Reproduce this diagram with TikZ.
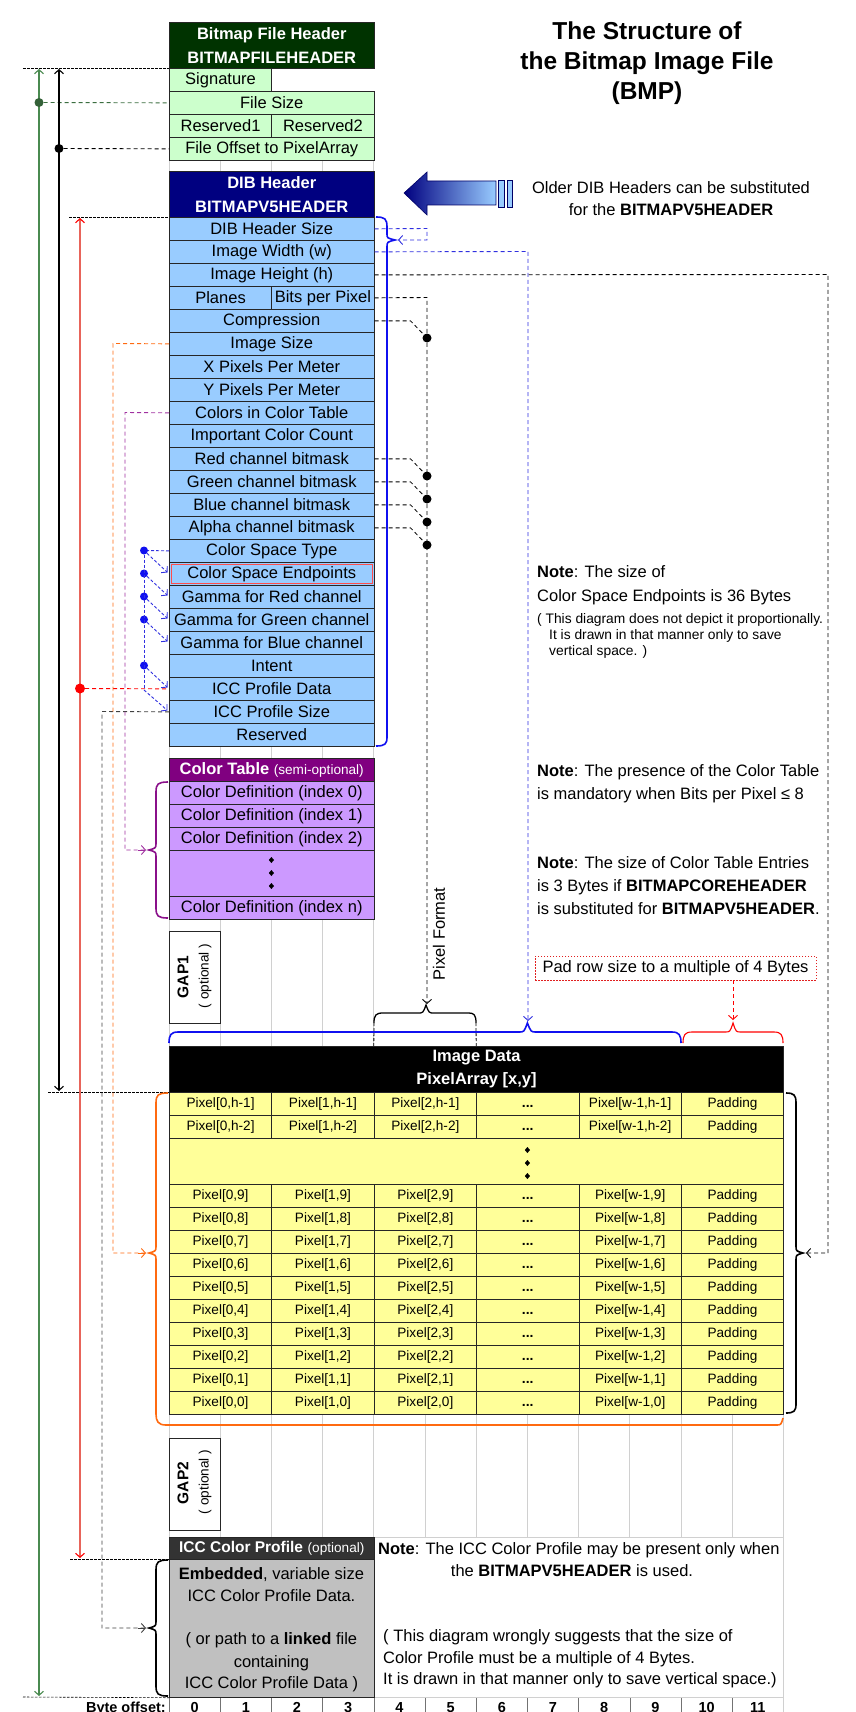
\documentclass[tikz,border=0pt]{standalone}
\usepackage{fontspec}
\setmainfont{Liberation Sans}
\usetikzlibrary{arrows.meta}
\definecolor{bfhdark}{HTML}{003300}
\definecolor{bfhrow}{HTML}{CCFFCC}
\definecolor{dibdark}{HTML}{000080}
\definecolor{dibrow}{HTML}{99CCFF}
\definecolor{ctdark}{HTML}{800080}
\definecolor{ctrow}{HTML}{CC99FF}
\definecolor{pixrow}{HTML}{FFFF99}
\definecolor{iccdark}{HTML}{333333}
\definecolor{iccrow}{HTML}{C0C0C0}
\definecolor{gridc}{HTML}{D0D0D0}
\definecolor{gline}{HTML}{4A8A50}
\definecolor{rline}{HTML}{E8645A}
\definecolor{oline}{HTML}{FF6A10}
\definecolor{pline}{HTML}{8A108A}
\definecolor{pdash}{HTML}{A030A0}
\definecolor{bline}{HTML}{1010F0}
\definecolor{bdash}{HTML}{3030E0}
\definecolor{greyd}{HTML}{404040}
\definecolor{padred}{HTML}{E02020}
\newcommand\fz[1]{\fontsize{#1}{#1}\selectfont}
\tikzset{
  cellst/.style={draw=black!85, line width=0.7pt, inner sep=0pt, anchor=north west, minimum height=23pt, text=black, font=\fz{16.5}},
  full/.style={minimum width=204.8pt},
  half/.style={minimum width=102.4pt},
  bfhc/.style={cellst, fill=bfhrow},
  dibc/.style={cellst, fill=dibrow},
  ctc/.style={cellst, fill=ctrow},
  pixc/.style={cellst, fill=pixrow, font=\fz{13.6}, minimum width=102.4pt, text height=10pt, text depth=3pt},
  hdrc/.style={cellst, text=white, font=\bfseries\fontsize{16.5}{24}\selectfont, align=center, minimum height=46pt},
  gapc/.style={cellst, fill=white, minimum width=51.2pt, minimum height=92pt},
  conn/.style={line width=0.9pt, dash pattern=on 4pt off 3pt},
  fine/.style={line width=0.6pt, dash pattern=on 2.5pt off 1.5pt, black},
  tipe/.style={-{Straight Barb[length=4pt,width=9pt]}},
  tipboth/.style={{Straight Barb[length=4pt,width=9pt]}-{Straight Barb[length=4pt,width=9pt]}},
  dotc/.style={circle, inner sep=0pt, minimum size=9pt},
  bracew/.style={line width=1.6pt},
  notet/.style={anchor=base west, inner sep=0pt, font=\fz{16.5}},
  smallt/.style={anchor=base west, inner sep=0pt, font=\fz{13.8}},
  ctrt/.style={anchor=base, inner sep=0pt, font=\fz{16.5}},
}
\begin{document}
\begin{tikzpicture}[x=1pt, y=-1pt]
\useasboundingbox (0,0) rectangle (855,1712);
\fill[white] (0,0) rectangle (855,1712);

% background grid
\foreach \x in {169,220.2,271.4,322.6,373.8} {
  \draw[gridc, line width=0.8pt] (\x,160) -- (\x,171);
  \draw[gridc, line width=0.8pt] (\x,746) -- (\x,758);
  \draw[gridc, line width=0.8pt] (\x,919) -- (\x,1046);
}
\foreach \i in {0,...,12} {
  \draw[gridc, line width=0.8pt] (169+51.2*\i,1414) -- (169+51.2*\i,1537);
  \draw[black!55, line width=0.6pt] (169+51.2*\i,1697) -- (169+51.2*\i,1712);
}
\draw[gridc, line width=0.8pt] (373.8,1537) -- (783.4,1537) -- (783.4,1712);
\draw[gridc, line width=0.8pt] (373.8,1697) -- (783.4,1697);

% title
\node[font=\bfseries\fontsize{24.5}{30}\selectfont, align=center] (title) at (647,63) {The Structure of\\the Bitmap Image File\\(BMP)};

% Bitmap file header
\node[hdrc, fill=bfhdark, full] (bfht) at (169,22) {Bitmap File Header\\BITMAPFILEHEADER};
\node[bfhc, half] (sig) at (169,68) {Signature};
\node[bfhc, full] (fsize) at (169,91) {File Size};
\node[bfhc, half] (res1) at (169,114) {Reserved1};
\node[bfhc, half] (res2) at (271.4,114) {Reserved2};
\node[bfhc, full] (foff) at (169,137) {File Offset to PixelArray};

% DIB header
\node[hdrc, fill=dibdark, full] (dibt) at (169,171) {DIB Header\\BITMAPV5HEADER};
\foreach \nm/\tx/\i in {dibsize/DIB Header Size/0, imgw/Image Width (w)/1, imgh/Image Height (h)/2, compr/Compression/4, imgsize/Image Size/5, xppm/X Pixels Per Meter/6, yppm/Y Pixels Per Meter/7, colors/Colors in Color Table/8, impcol/Important Color Count/9, redm/Red channel bitmask/10, greenm/Green channel bitmask/11, bluem/Blue channel bitmask/12, alpham/Alpha channel bitmask/13, cstype/Color Space Type/14, csend/Color Space Endpoints/15, gammar/Gamma for Red channel/16, gammag/Gamma for Green channel/17, gammab/Gamma for Blue channel/18, intent/Intent/19, iccdata/ICC Profile Data/20, iccsize/ICC Profile Size/21, reserved/Reserved/22}
  \node[dibc, full] (\nm) at (169,217+23*\i) {\tx};
\node[dibc, half] (planes) at (169,286) {Planes};
\node[dibc, half] (bpp) at (271.4,286) {Bits per Pixel};
\draw[color=red!70!white, line width=0.8pt] ([shift={(2.5,2.5)}]csend.north west) rectangle ([shift={(-2.5,-2.5)}]csend.south east);

% substitution arrow
\shadedraw[left color=dibdark, right color=dibrow, draw=dibdark!80!black, line width=0.6pt] (404,193) -- (427,172) -- (427,181) -- (496,181) -- (496,205) -- (427,205) -- (427,215) -- cycle;
\draw[fill=dibrow, draw=dibdark!80!black, line width=0.6pt] (498.5,180) rectangle (504,207);
\draw[fill=dibrow, draw=dibdark!80!black, line width=0.6pt] (507,180) rectangle (512.5,207);
\node[font=\fontsize{16.5}{22}\selectfont, align=center] (older) at (671,199) {Older DIB Headers can be substituted\\for the \textbf{BITMAPV5HEADER}};

% Color table
\node[cellst, fill=ctdark, full, text=white] (ctt) at (169,758) {\textbf{\fz{16.5}Color Table} {\fz{13.6}(semi-optional)}};
\node[ctc, full] (ct0) at (169,781) {Color Definition (index 0)};
\node[ctc, full] (ct1) at (169,804) {Color Definition (index 1)};
\node[ctc, full] (ct2) at (169,827) {Color Definition (index 2)};
\node[ctc, full, minimum height=46pt] (ctdots) at (169,850) {};
\node[ctc, full] (ctn) at (169,896) {Color Definition (index n)};
\foreach \yy in {860,873,886}
  \fill (271.4,\yy-3) -- (274,\yy) -- (271.4,\yy+3) -- (268.8,\yy) -- cycle;

% GAP1
\node[gapc] (gap1) at (169,931) {};
\node[rotate=90, font=\bfseries\fz{15.5}] (gap1a) at (183,977) {GAP1};
\node[rotate=90, font=\fz{13.6}] (gap1b) at (205,976) {( optional )};

% Image data
\node[cellst, fill=black, text=white, minimum width=614.4pt, minimum height=46pt, align=center, font=\bfseries\fontsize{16.5}{23}\selectfont] (imgt) at (169,1046) {Image Data\\PixelArray [x,y]};
\foreach \r/\yy [count=\k] in {h-1/1092, h-2/1115, 9/1184, 8/1207, 7/1230, 6/1253, 5/1276, 4/1299, 3/1322, 2/1345, 1/1368, 0/1391} {
  \node[pixc] (pxa\k) at (169,\yy) {Pixel[0,\r]};
  \node[pixc] (pxb\k) at (271.4,\yy) {Pixel[1,\r]};
  \node[pixc] (pxc\k) at (373.8,\yy) {Pixel[2,\r]};
  \node[pixc, font=\bfseries\fz{14}] (pxd\k) at (476.2,\yy) {...};
  \node[pixc] (pxe\k) at (578.6,\yy) {Pixel[w-1,\r]};
  \node[pixc] (pxf\k) at (681,\yy) {Padding};
}
\node[cellst, fill=pixrow, minimum width=614.4pt, minimum height=46pt] (pxdots) at (169,1138) {};
\foreach \yy in {1150,1163,1176}
  \fill (527.4,\yy-3) -- (530,\yy) -- (527.4,\yy+3) -- (524.8,\yy) -- cycle;

% GAP2
\node[gapc] (gap2) at (169,1438) {};
\node[rotate=90, font=\bfseries\fz{15.5}] (gap2a) at (183,1483) {GAP2};
\node[rotate=90, font=\fz{13.6}] (gap2b) at (205,1482) {( optional )};

% ICC profile
\node[cellst, fill=iccdark, full, minimum height=22.5pt, text=white] (icct) at (169,1536.5) {\textbf{\fz{15.5}ICC Color Profile} {\fz{13.6}(optional)}};
\node[cellst, fill=iccrow, full, minimum height=138pt] (iccb) at (169,1559) {};
\node[ctrt] (icc1) at (271.4,1579) {\textbf{Embedded}, variable size};
\node[ctrt] (icc2) at (271.4,1601) {ICC Color Profile Data.};
\node[ctrt] (icc3) at (271.4,1644) {( or path to a \textbf{linked} file};
\node[ctrt] (icc4) at (271.4,1667) {containing};
\node[ctrt] (icc5) at (271.4,1688) {ICC Color Profile Data )};

% ICC note
\node[notet] (in1) at (378,1554) {\textbf{Note}: The ICC Color Profile may be present only when};
\node[ctrt] (in2) at (572,1576) {the \textbf{BITMAPV5HEADER} is used.};
\node[notet] (in3) at (383,1641) {( This diagram wrongly suggests that the size of};
\node[notet] (in4) at (383,1663) {Color Profile must be a multiple of 4 Bytes.};
\node[notet] (in5) at (383,1684) {It is drawn in that manner only to save vertical space.)};

% byte offsets
\node[anchor=base east, inner sep=0pt, font=\bfseries\fz{14.5}] (boff) at (166,1712) {Byte offset:};
\foreach \i in {0,...,11}
  \node[anchor=base, inner sep=0pt, font=\bfseries\fz{14.5}] (b\i) at (169+51.2*\i+25.6,1712) {\i};

% notes
\node[notet] (n1a) at (537,577) {\textbf{Note}: The size of};
\node[notet] (n1b) at (537,601) {Color Space Endpoints is 36 Bytes};
\node[smallt] (n1c) at (537,623) {( This diagram does not depict it proportionally.};
\node[smallt] (n1d) at (549,639) {It is drawn in that manner only to save};
\node[smallt] (n1e) at (549,655) {vertical space. )};
\node[notet] (n2a) at (537,776) {\textbf{Note}: The presence of the Color Table};
\node[notet] (n2b) at (537,799) {is mandatory when Bits per Pixel ≤ 8};
\node[notet] (n3a) at (537,868) {\textbf{Note}: The size of Color Table Entries};
\node[notet] (n3b) at (537,891) {is 3 Bytes if \textbf{BITMAPCOREHEADER}};
\node[notet] (n3c) at (537,914) {is substituted for \textbf{BITMAPV5HEADER}.};

\node[draw=padred, dash pattern=on 1.5pt off 1.5pt, line width=0.8pt, minimum width=281pt, minimum height=24pt, inner sep=0pt, font=\fz{16.5}] (pad) at (675.5,968) {Pad row size to a multiple of 4 Bytes};
\node[rotate=90, font=\fz{16.5}] (pixfmt) at (439,934) {Pixel Format};

% ---------- left connectors ----------
\coordinate (l68) at (23,68);
\coordinate (l1092) at (48,1092);
\coordinate (l217) at (69,217);
\coordinate (l1559) at (70,1559);
\coordinate (l1697) at (23,1697);
\draw[fine] (l68) -- (sig.north west);
\draw[fine] (l1092) -- (pxa1.north west);
\draw[fine] (l217) -- (dibsize.north west);
\draw[fine] (l1559) -- (iccb.north west);
\draw[fine] (l1697) -- (iccb.south west);

% green: file size
\coordinate (gtop) at (39,69);
\coordinate (gbot) at (39,1696);
\draw[gline, line width=1.1pt, tipboth] (gtop) -- (gbot);
\node[dotc, fill=gline!70!black] (gdot) at (39,102.5) {};
\draw[gline!80!black, conn] (gdot) -- (fsize.west);

% black: offset to pixel array
\coordinate (ktop) at (59,69);
\coordinate (kbot) at (59,1091);
\draw[black, line width=1.1pt, tipboth] (ktop) -- (kbot);
\node[dotc, fill=black] (kdot) at (59,148.5) {};
\draw[black, conn] (kdot) -- (foff.west);

% red: ICC profile data offset
\coordinate (rtop) at (80,218);
\coordinate (rbot) at (80,1558);
\coordinate (rmid) at (80,300);
\draw[rline, line width=1.1pt, -{Straight Barb[length=4pt,width=9pt,red]}] (rmid) -- (rbot);
\draw[rline, line width=1.1pt, -{Straight Barb[length=4pt,width=9pt,red]}] (rmid) -- (rtop);
\node[dotc, fill=red, minimum size=10pt] (rdot) at (80,688.5) {};
\draw[red, conn] (rdot) -- (iccdata.west);

% grey: ICC profile size
\coordinate (gy1) at (102,711.5);
\coordinate (gy2) at (102,1628);
\coordinate (gy3) at (146,1628);
\draw[greyd, conn] (iccsize.west) -- (gy1) -- (gy2) -- (gy3);
\draw[greyd, line width=0.9pt, tipe] (138,1628) -- (gy3);

% orange: image size
\coordinate (or1) at (113,343.5);
\coordinate (or2) at (113,1253);
\coordinate (or3) at (146,1253);
\draw[oline, conn] (imgsize.west) -- (or1) -- (or2) -- (or3);
\draw[oline, line width=0.9pt, tipe] (138,1253) -- (or3);

% purple: colors in color table
\coordinate (pu1) at (125,412.5);
\coordinate (pu2) at (125,850);
\coordinate (pu3) at (146,850);
\draw[pdash, conn] (colors.west) -- (pu1) -- (pu2) -- (pu3);
\draw[pdash, line width=0.9pt, tipe] (138,850) -- (pu3);

% braces on the left
\draw[pline, bracew] (168,782) .. controls (158,782) and (156,784) .. (156,792) -- (156,843) .. controls (156,848) .. (149,850) .. controls (156,852) .. (156,857) -- (156,908) .. controls (156,916) and (158,918) .. (168,918);
\draw[black, bracew] (168,1560) .. controls (158,1560) and (156,1562) .. (156,1570) -- (156,1621) .. controls (156,1626) .. (149,1628) .. controls (156,1630) .. (156,1635) -- (156,1686) .. controls (156,1694) and (158,1696) .. (168,1696);
\draw[oline, bracew] (168,1093) .. controls (158,1093) and (156,1095) .. (156,1103) -- (156,1246) .. controls (156,1251) .. (149,1253) .. controls (156,1255) .. (156,1260) -- (156,1414) .. controls (156,1421) and (158,1425) .. (166,1425) -- (776,1425) .. controls (781,1425) .. (783,1418);

% blue: colour space chain
\node[dotc, fill=bline, minimum size=8pt] (bd1) at (144,550.5) {};
\node[dotc, fill=bline, minimum size=8pt] (bd2) at (144,573.5) {};
\node[dotc, fill=bline, minimum size=8pt] (bd3) at (144,596.5) {};
\node[dotc, fill=bline, minimum size=8pt] (bd4) at (144,619.5) {};
\node[dotc, fill=bline, minimum size=8pt] (bd5) at (144,665.5) {};
\coordinate (bd6) at (144,690);
\draw[bdash, line width=0.9pt, dash pattern=on 3pt off 2pt] (bd1) -- (bd6);
\draw[bdash, line width=0.9pt, dash pattern=on 3pt off 2pt] (cstype.west) -- (bd1);
\foreach \a/\b in {bd1/csend, bd2/gammar, bd3/gammag, bd4/gammab, bd5/iccdata, bd6/iccsize}
  \draw[bdash, line width=0.9pt, dash pattern=on 3pt off 2pt, tipe, shorten >=2pt] (\a) -- (\b.west);

% ---------- right connectors ----------
\draw[bline, bracew] (376,217) .. controls (385,217) and (387,219) .. (387,227) -- (387,234) .. controls (387,238) .. (395,240) .. controls (387,242) .. (387,247) -- (387,737) .. controls (387,744) and (385,746) .. (376,746);
\coordinate (bs1) at (427,228.5);
\coordinate (bs2) at (427,240);
\coordinate (bs3) at (398,240);
\draw[bdash, conn, tipe] (dibsize.east) -- (bs1) -- (bs2) -- (bs3);

\coordinate (iw1) at (528,251.5);
\coordinate (iw2) at (528,1021);
\draw[bdash, conn, tipe] (imgw.east) -- (iw1) -- (iw2);
\draw[bline, bracew] (169,1043) .. controls (169,1035) and (171,1032) .. (178,1032) -- (519,1032) .. controls (524,1032) .. (527.4,1023) .. controls (531,1032) .. (536,1032) -- (672,1032) .. controls (679,1032) and (681,1035) .. (681,1043);

\coordinate (pd1) at (733,1020);
\draw[red, conn, tipe] (pad.south -| pd1) -- (pd1);
\draw[red, line width=1.1pt] (683,1043) .. controls (683,1035) and (685,1032) .. (692,1032) -- (725,1032) .. controls (730,1032) .. (733,1023) .. controls (736,1032) .. (741,1032) -- (774,1032) .. controls (781,1032) and (783,1035) .. (783,1043);

\coordinate (ih1) at (828,274.5);
\coordinate (ih2) at (828,1253);
\coordinate (ih3) at (806,1253);
\draw[black, conn, tipe] (imgh.east) -- (ih1) -- (ih2) -- (ih3);
\draw[black, bracew] (786,1093) .. controls (794,1093) and (796,1095) .. (796,1103) -- (796,1246) .. controls (796,1251) .. (803,1253) .. controls (796,1255) .. (796,1260) -- (796,1404) .. controls (796,1411) and (794,1413) .. (786,1413);

\coordinate (pf1) at (427,297.5);
\coordinate (pf2) at (427,1004);
\draw[black, conn, tipe] (bpp.east) -- (pf1) -- (pf2);
\node[dotc, fill=black] (kc1) at (427,338) {};
\node[dotc, fill=black] (kc2) at (427,476) {};
\node[dotc, fill=black] (kc3) at (427,499) {};
\node[dotc, fill=black] (kc4) at (427,522) {};
\node[dotc, fill=black] (kc5) at (427,545) {};
\foreach \r/\d in {compr/kc1, redm/kc2, greenm/kc3, bluem/kc4, alpham/kc5}
  \draw[black, line width=0.8pt, dash pattern=on 4pt off 3pt] (\r.east) -- ++(36,0) -- (\d);
\draw[black, line width=1.3pt] (374,1023) .. controls (374,1015) and (376,1013) .. (383,1013) -- (418,1013) .. controls (423,1013) .. (426,1005) .. controls (429,1013) .. (434,1013) -- (469,1013) .. controls (474,1013) and (476,1015) .. (476,1023);
\draw[black, line width=0.8pt, dash pattern=on 3pt off 2pt] (374,1023) -- (pxc1.north west |- imgt.north);
\draw[black, line width=0.8pt, dash pattern=on 3pt off 2pt] (476,1023) -- (pxd1.north west |- imgt.north);
\end{tikzpicture}
\end{document}
